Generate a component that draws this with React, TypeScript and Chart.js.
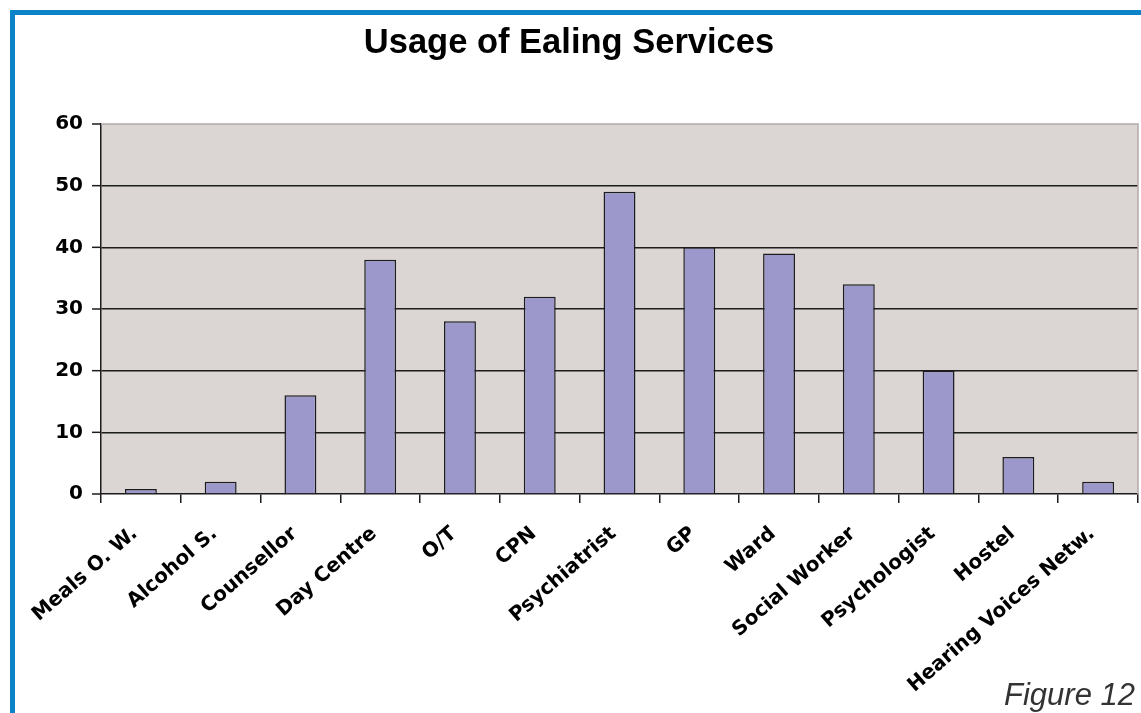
import React, { useEffect, useRef } from "react";
import { Chart, registerables } from "chart.js";

Chart.register(...registerables);

const categories = [
  "Meals O. W.",
  "Alcohol S.",
  "Counsellor",
  "Day Centre",
  "O/T",
  "CPN",
  "Psychiatrist",
  "GP",
  "Ward",
  "Social Worker",
  "Psychologist",
  "Hostel",
  "Hearing Voices Netw.",
];
const usage = [0.8, 2, 16, 38, 28, 32, 49, 40, 39, 34, 20, 6, 2];
const yTicks = [0, 10, 20, 30, 40, 50, 60];
const titleText = "Usage of Ealing Services";
const figureText = "Figure 12";

const W = 1141;
const H = 713;
const AREA_LEFT = 101;
const AREA_RIGHT = 1138;
const AREA_TOP = 124;
const AREA_BOTTOM = 494;
const FONT = "'DejaVu Sans', 'Liberation Sans', Arial, sans-serif";
const TITLE_FONT = "'Liberation Sans', Arial, sans-serif";

const plotBg = {
  id: "plotBg",
  beforeDraw(chart: any) {
    const { ctx, chartArea } = chart;
    ctx.save();
    ctx.fillStyle = "#dbd6d4";
    ctx.fillRect(chartArea.left, chartArea.top, chartArea.right - chartArea.left, chartArea.bottom - chartArea.top);
    ctx.restore();
  },
  afterDatasetsDraw(chart: any) {
    const { ctx, chartArea } = chart;
    ctx.save();
    ctx.strokeStyle = "#b3aba8";
    ctx.lineWidth = 1.5;
    ctx.beginPath();
    ctx.moveTo(chartArea.left, chartArea.top);
    ctx.lineTo(chartArea.right, chartArea.top);
    ctx.lineTo(chartArea.right, chartArea.bottom);
    ctx.stroke();
    ctx.restore();
  },
};

export default function App() {
  const ref = useRef<HTMLCanvasElement | null>(null);
  useEffect(() => {
    if (!ref.current) return;
    const chart = new Chart(ref.current, {
      type: "bar",
      data: {
        labels: categories,
        datasets: [
          {
            data: usage,
            backgroundColor: "#9d98cb",
            borderColor: "#1c1c1c",
            borderWidth: 1.5,
            borderSkipped: "bottom",
            categoryPercentage: 1,
            barPercentage: 0.4,
          },
        ],
      },
      options: {
        animation: false,
        responsive: false,
        maintainAspectRatio: false,
        layout: { padding: { left: 0, right: W - AREA_RIGHT, top: 0, bottom: 0 } },
        plugins: {
          legend: { display: false },
          tooltip: { enabled: false },
          title: {
            display: true,
            text: titleText,
            color: "#000",
            font: { family: TITLE_FONT, size: 34.5, weight: "bold", lineHeight: 1.2 },
            padding: { top: 23, bottom: AREA_TOP - 23 - 41.4 },
          },
        },
        scales: {
          x: {
            offset: true,
            afterFit: (s: any) => {
              s.height = H - AREA_BOTTOM;
            },
            grid: {
              offset: true,
              drawOnChartArea: false,
              drawTicks: true,
              tickLength: 9,
              color: "#1c1c1c",
              lineWidth: 1.5,
            },
            border: { display: true, color: "#1c1c1c", width: 1.5 },
            ticks: {
              autoSkip: false,
              minRotation: 41,
              maxRotation: 41,
              padding: 19,
              labelOffset: -6,
              color: "#000",
              font: { family: FONT, size: 20, weight: "bold" },
            },
          },
          y: {
            min: 0,
            max: 60,
            afterFit: (s: any) => {
              s.width = AREA_LEFT;
            },
            afterBuildTicks: (s: any) => {
              s.ticks = yTicks.map((v) => ({ value: v }));
            },
            grid: {
              color: (c: any) => (c.tick && (c.tick.value === 60 || c.tick.value === 0) ? "rgba(0,0,0,0)" : "#1c1c1c"),
              lineWidth: 1.5,
              drawTicks: false,
            },
            border: { display: true, color: "#1c1c1c", width: 1.5 },
            ticks: {
              padding: 18,
              color: "#000",
              font: { family: FONT, size: 20, weight: "bold" },
            },
          },
        },
      },
      plugins: [
        plotBg,
        {
          id: "yTickMarks",
          afterDraw(chart: any) {
            const { ctx, scales } = chart;
            const y = scales.y;
            ctx.save();
            ctx.strokeStyle = "#1c1c1c";
            ctx.lineWidth = 1.5;
            yTicks.forEach((v) => {
              const py = y.getPixelForValue(v);
              ctx.beginPath();
              ctx.moveTo(chart.chartArea.left - 9, py);
              ctx.lineTo(chart.chartArea.left, py);
              ctx.stroke();
            });
            ctx.restore();
          },
        },
      ],
    } as any);
    return () => chart.destroy();
  }, []);

  return (
    <div style={{ position: "fixed", left: 0, top: 0, width: W, height: H, background: "#fff", overflow: "hidden" }}>
      <div
        style={{
          position: "absolute",
          left: 10,
          top: 10,
          width: W,
          height: H,
          borderLeft: "5px solid #0a83c8",
          borderTop: "5px solid #0a83c8",
        }}
      />
      <canvas ref={ref} width={W} height={H} style={{ position: "absolute", left: 0, top: 0, width: W, height: H }} />
      <div
        style={{
          position: "absolute",
          right: 6,
          top: 679,
          fontFamily: "'Liberation Sans', Arial, sans-serif",
          fontStyle: "italic",
          fontSize: 31,
          lineHeight: 1,
          color: "#333",
          whiteSpace: "nowrap",
        }}
      >
        {figureText}
      </div>
    </div>
  );
}
